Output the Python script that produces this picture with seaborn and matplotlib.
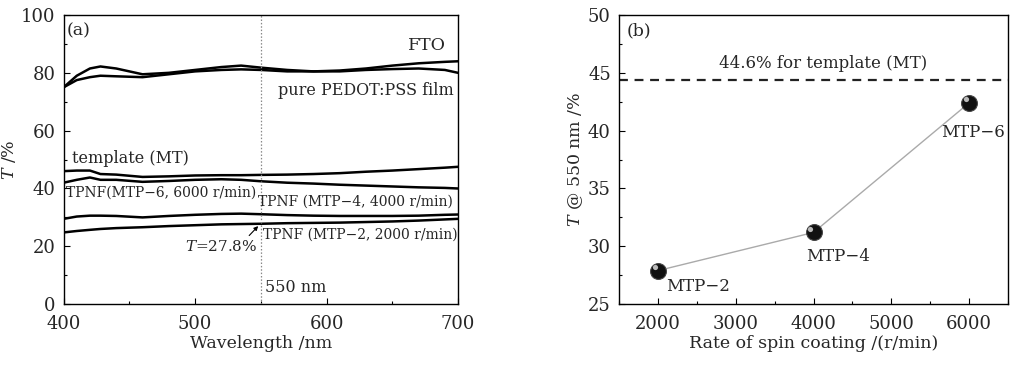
import numpy as np
import pandas as pd
import matplotlib
matplotlib.use("Agg")
import matplotlib.pyplot as plt
import matplotlib.transforms as mtransforms
import seaborn as sns
from matplotlib.ticker import MultipleLocator

sns.set_theme(style="white")
plt.rcParams['font.family'] = ['DejaVu Serif']
plt.rcParams['mathtext.fontset'] = 'dejavuserif'

# ---- Panel (a) data ----
wavelength = [400, 410, 420, 428, 440, 460, 480, 500, 520, 535, 550, 570, 590, 610, 630, 650, 670, 690, 700]
fto      = [75, 79, 81.5, 82.2, 81.5, 79.5, 80, 81, 82, 82.5, 81.8, 81, 80.5, 80.8, 81.5, 82.5, 83.3, 83.8, 84]
pedot    = [75, 77.5, 78.5, 79, 78.8, 78.5, 79.5, 80.5, 81, 81.2, 81, 80.5, 80.5, 80.5, 81, 81.3, 81.5, 81, 80]
template = [46, 46.2, 46.2, 45, 44.8, 44, 44.2, 44.5, 44.6, 44.6, 44.7, 44.8, 45, 45.3, 45.8, 46.2, 46.7, 47.2, 47.5]
mtp6     = [42, 43, 43.8, 43, 43, 42.3, 42.6, 43, 43.2, 43, 42.5, 42, 41.7, 41.3, 41, 40.7, 40.4, 40.2, 40]
mtp4     = [29.5, 30.3, 30.6, 30.6, 30.5, 30, 30.5, 30.9, 31.2, 31.3, 31.1, 30.8, 30.6, 30.5, 30.5, 30.5, 30.6, 30.9, 31]
mtp2     = [24.8, 25.3, 25.7, 26, 26.3, 26.6, 27, 27.3, 27.6, 27.7, 27.8, 28, 28.1, 28.2, 28.4, 28.6, 28.9, 29.3, 29.5]
series_names = ["FTO", "PEDOT", "MT", "MTP-6", "MTP-4", "MTP-2"]

# ---- Panel (b) data ----
spin_rate = [2000, 4000, 6000]
t550 = [27.9, 31.2, 42.4]
sample_labels = ["MTP\u22122", "MTP\u22124", "MTP\u22126"]
template_t = 44.4

rows = []
for name, vals in zip(series_names, [fto, pedot, template, mtp6, mtp4, mtp2]):
    for w, v in zip(wavelength, vals):
        rows.append({"wl": w, "T": v, "series": name})
dfa = pd.DataFrame(rows)
dfb = pd.DataFrame({"rate": spin_rate, "T": t550})

fig = plt.figure(figsize=(10.10, 3.66), dpi=100)
ax1 = fig.add_axes([0.063, 0.169, 0.3905, 0.790])
ax2 = fig.add_axes([0.613, 0.169, 0.385, 0.790])

fs_tick = 13
fs_lab = 12.5

# Panel (a)
sns.lineplot(data=dfa, x="wl", y="T", units="series", estimator=None,
             color="black", linewidth=1.8, ax=ax1, legend=False)
ax1.axvline(550, color="#888888", linestyle=(0, (1.2, 1.5)), linewidth=0.9)
ax1.set_xlim(400, 700)
ax1.set_ylim(0, 100)
ax1.xaxis.set_major_locator(MultipleLocator(100))
ax1.xaxis.set_minor_locator(MultipleLocator(50))
ax1.yaxis.set_major_locator(MultipleLocator(20))
ax1.yaxis.set_minor_locator(MultipleLocator(10))
ax1.set_xlabel("Wavelength /nm", fontsize=fs_lab, labelpad=1)
ax1.set_ylabel("$T$ /%", fontsize=fs_lab, labelpad=2)

ax1.text(402, 94.5, "(a)", fontsize=12.5, va="center", ha="left")
ax1.text(691, 89.6, "FTO", fontsize=12.5, va="center", ha="right")
ax1.text(697, 74, "pure PEDOT:PSS film", fontsize=11.5, va="center", ha="right")
ax1.text(406, 50.5, "template (MT)", fontsize=11.5, va="center", ha="left")
ax1.text(402, 38.4, "TPNF(MTP\u22126, 6000 r/min)", fontsize=10, va="center", ha="left")
ax1.text(696, 35.6, "TPNF (MTP\u22124, 4000 r/min)", fontsize=10, va="center", ha="right")
ax1.text(552, 23.9, "TPNF (MTP\u22122, 2000 r/min)", fontsize=10, va="center", ha="left")
ax1.annotate("$T$=27.8%", xy=(548, 27.0), xytext=(547, 20), fontsize=11,
             va="center", ha="right",
             arrowprops=dict(arrowstyle="-|>", color="black", lw=0.8,
                             shrinkA=0, shrinkB=0, mutation_scale=6,
                             relpos=(0.85, 1.0)))
ax1.text(553, 5.9, "550 nm", fontsize=11.5, va="center", ha="left")

# Panel (b)
sns.lineplot(data=dfb, x="rate", y="T", color="#aaaaaa", linewidth=1.0, ax=ax2,
             legend=False)
sns.scatterplot(data=dfb, x="rate", y="T", color="#111111", s=130,
                edgecolor="#444444", linewidth=0.8, ax=ax2, zorder=5, legend=False)
# sphere highlight (same data points, small offset in screen space)
hl = sns.scatterplot(data=dfb, x="rate", y="T", color="#bbbbbb", s=14,
                     linewidth=0, ax=ax2, zorder=6, legend=False)
offset = mtransforms.ScaledTranslation(-2.5 / 72, 2.5 / 72, fig.dpi_scale_trans)
hl.collections[-1].set_offset_transform(ax2.transData + offset)

ax2.axhline(template_t, color="#222222", linestyle=(0, (4, 3)), linewidth=1.6)
ax2.set_xlim(1500, 6500)
ax2.set_ylim(25, 50)
ax2.xaxis.set_major_locator(MultipleLocator(1000))
ax2.xaxis.set_minor_locator(MultipleLocator(500))
ax2.yaxis.set_major_locator(MultipleLocator(5))
ax2.yaxis.set_minor_locator(MultipleLocator(2.5))
ax2.set_xlabel("Rate of spin coating /(r/min)", fontsize=fs_lab, labelpad=1)
ax2.set_ylabel("$T$ @ 550 nm /%", fontsize=fs_lab, labelpad=2)
ax2.text(1590, 48.6, "(b)", fontsize=12.5, va="center", ha="left")
ax2.text(4128, 45.85, "44.6% for template (MT)", fontsize=12, va="center", ha="center")
label_offsets = [(2100, 26.5), (3910, 29.1), (5640, 39.8)]
for lab, (tx, ty) in zip(sample_labels, label_offsets):
    ax2.text(tx, ty, lab, fontsize=12, va="center", ha="left")

for ax in (ax1, ax2):
    for sp in ax.spines.values():
        sp.set_color("black")
        sp.set_linewidth(1.0)
    ax.tick_params(axis="both", which="major", direction="in", length=4,
                   width=0.8, labelsize=fs_tick, color="black",
                   bottom=True, left=True, top=False, right=False)
    ax.tick_params(axis="x", which="major", pad=8)
    ax.tick_params(axis="y", which="major", pad=6)
    ax.tick_params(axis="both", which="minor", direction="in", length=2.5,
                   width=0.8, color="black", bottom=True, left=True,
                   top=False, right=False)
    ax.grid(False)

fig.savefig("out.png", dpi=100)
